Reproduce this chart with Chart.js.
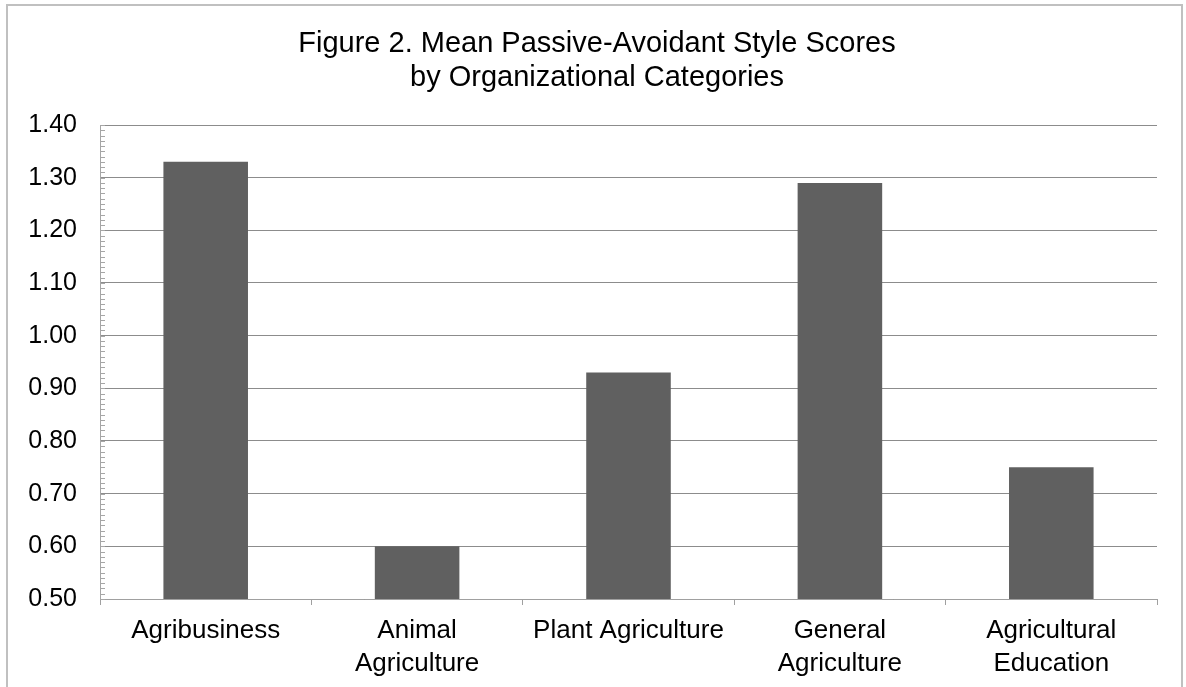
<!DOCTYPE html>
<html>
<head>
<meta charset="utf-8">
<script src="https://cdn.jsdelivr.net/npm/chart.js@4/dist/chart.umd.min.js"></script>
<style>
  html, body { margin: 0; padding: 0; background: #fff; overflow: hidden; }
  #wrap { position: relative; width: 1186px; height: 687px; overflow: hidden; }
  #frame {
    position: absolute; left: 6px; top: 4px; width: 1177px; height: 720px;
    border: 2px solid #c0c0c0; pointer-events: none; box-sizing: border-box;
  }
  canvas { position: absolute; left: 0; top: 0; }
</style>
</head>
<body>
<div id="wrap">
  <canvas id="chart" width="1194" height="687"></canvas>
  <div id="frame"></div>
</div>
<script>
// Organizational categories (multi-line labels) and mean scores
const categories = [
  ['Agribusiness'],
  ['Animal', 'Agriculture'],
  ['Plant Agriculture'],
  ['General', 'Agriculture'],
  ['Agricultural', 'Education']
];
const meanScores = [1.33, 0.60, 0.93, 1.29, 0.75];
const titleLines = ['Figure 2. Mean Passive-Avoidant Style Scores', 'by Organizational Categories'];
const yMin = 0.50, yMax = 1.40, yStep = 0.10, yMinorStep = 0.01;

const FONT = '"Liberation Sans", Arial, sans-serif';

// Small inward tick marks on the value axis at every minor step
const minorTicks = {
  id: 'minorTicks',
  afterDatasetsDraw(chart) {
    const y = chart.scales.y;
    const ctx = chart.ctx;
    const left = chart.chartArea.left;
    ctx.save();
    ctx.strokeStyle = '#a6a6a6';
    ctx.lineWidth = 1;
    const n = Math.round((yMax - yMin) / yMinorStep);
    for (let i = 0; i <= n; i++) {
      const py = Math.round(y.getPixelForValue(yMin + i * yMinorStep)) + 0.5;
      ctx.beginPath();
      ctx.moveTo(left, py);
      ctx.lineTo(left + 5, py);
      ctx.stroke();
    }
    ctx.restore();
  }
};

new Chart(document.getElementById('chart'), {
  type: 'bar',
  data: {
    labels: categories,
    datasets: [{
      data: meanScores,
      backgroundColor: '#606060',
      borderWidth: 0,
      barPercentage: 0.4,
      categoryPercentage: 1.0
    }]
  },
  options: {
    responsive: false,
    devicePixelRatio: 1,
    animation: false,
    layout: { padding: 0 },
    plugins: {
      legend: { display: false },
      tooltip: { enabled: false },
      title: {
        display: true,
        text: titleLines,
        color: '#000',
        font: { family: FONT, size: 29, weight: 'normal', lineHeight: 34 / 29 },
        padding: { top: 27, bottom: 30 }
      }
    },
    scales: {
      x: {
        offset: true,
        grid: {
          display: true,
          offset: true,
          drawOnChartArea: false,
          drawTicks: true,
          tickLength: 6,
          color: '#a0a0a0'
        },
        border: { display: true, color: '#a0a0a0' },
        ticks: {
          color: '#000',
          font: { family: FONT, size: 26, lineHeight: 33 / 26 },
          padding: 9,
          maxRotation: 0,
          autoSkip: false
        },
        afterFit(scale) { scale.height = 88; }
      },
      y: {
        min: yMin,
        max: yMax,
        grid: {
          color: '#8c8c8c',
          drawTicks: false
        },
        border: { display: true, color: '#a6a6a6' },
        ticks: {
          stepSize: yStep,
          color: '#000',
          font: { family: FONT, size: 25 },
          padding: 23,
          callback: (v) => Number(v).toFixed(2)
        },
        afterFit(scale) { scale.width = 100; }
      },
      // empty right-hand margin axis (nothing drawn)
      yMargin: {
        type: 'linear',
        position: 'right',
        grid: { display: false },
        border: { display: false },
        ticks: { display: false },
        afterFit(scale) { scale.width = 37; }
      }
    }
  },
  plugins: [minorTicks]
});
</script>
</body>
</html>
